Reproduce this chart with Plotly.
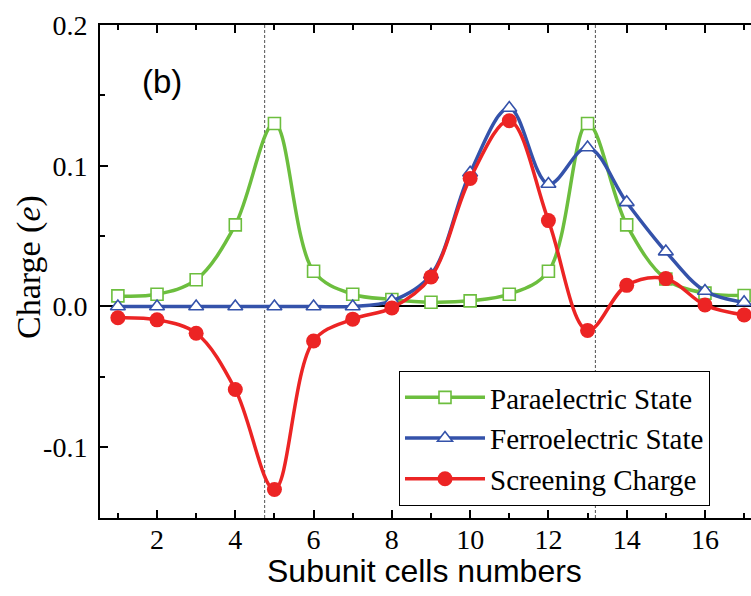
import plotly.graph_objects as go

# Subunit cell index along the supercell
cells = list(range(1, 18))

# Charge per subunit cell (e)
paraelectric = [0.0075, 0.0087, 0.019, 0.058, 0.130, 0.025, 0.0087, 0.005, 0.003,
                0.004, 0.0087, 0.025, 0.130, 0.058, 0.0195, 0.0095, 0.0078]
ferroelectric = [0.0, 0.0, 0.0, 0.0, 0.0, 0.0, 0.0, 0.004, 0.0225,
                 0.095, 0.141, 0.087, 0.113, 0.074, 0.039, 0.011, 0.003]
screening = [-0.008, -0.0095, -0.019, -0.059, -0.130, -0.0245, -0.009, -0.001, 0.021,
             0.091, 0.132, 0.061, -0.017, 0.015, 0.0198, 0.001, -0.006]

# Interface positions (dotted markers)
interfaces = [4.75, 13.2]

GREEN = "rgb(108,190,62)"
BLUE = "rgb(52,82,170)"
RED = "rgb(236,36,36)"
SERIF = "Liberation Serif"
SANS = "Liberation Sans"

# plot area in pixels
L, T, R, B = 100, 25, 751, 518
W, H = R - L, B - T


def px(xp):
    return (xp - L) / W


def py(yp):
    return (B - yp) / H


fig = go.Figure()

fig.add_trace(go.Scatter(
    x=cells, y=paraelectric, name="Paraelectric State",
    mode="lines+markers", line=dict(color=GREEN, width=3.5, shape="spline", smoothing=1.0),
    marker=dict(symbol="square", size=12, color="white", line=dict(color=GREEN, width=1.6)),
))
fig.add_trace(go.Scatter(
    x=cells, y=ferroelectric, name="Ferroelectric State",
    mode="lines+markers", line=dict(color=BLUE, width=3.5, shape="spline", smoothing=1.0),
    marker=dict(symbol="triangle-up", size=13, color="white", line=dict(color=BLUE, width=1.6)),
))
fig.add_trace(go.Scatter(
    x=cells, y=screening, name="Screening Charge",
    mode="lines+markers", line=dict(color=RED, width=3.5, shape="spline", smoothing=1.0),
    marker=dict(symbol="circle", size=15, color=RED),
))

for xi in interfaces:
    fig.add_shape(type="line", xref="x", yref="paper", x0=xi, x1=xi, y0=0, y1=1,
                  line=dict(color="rgb(80,80,80)", width=1, dash="3px,2px"), layer="below")

fig.add_annotation(text="(b)", xref="paper", yref="paper", x=px(162), y=py(82),
                   showarrow=False, font=dict(family=SANS, size=33, color="black"),
                   xanchor="center", yanchor="middle")

fig.add_annotation(text="Charge (<i>e</i>)", xref="paper", yref="paper",
                   x=px(29), y=py(267), textangle=-90,
                   showarrow=False, font=dict(family=SERIF, size=34, color="black"),
                   xanchor="center", yanchor="middle")

fig.add_annotation(text="Subunit cells numbers", xref="paper", yref="paper",
                   x=px(424), y=py(571),
                   showarrow=False, font=dict(family=SANS, size=32, color="black"),
                   xanchor="center", yanchor="middle")

fig.update_layout(
    width=751, height=596,
    margin=dict(l=L, r=751 - R, t=T, b=596 - B),
    paper_bgcolor="white", plot_bgcolor="white",
    showlegend=True,
    legend=dict(
        x=px(399), y=py(438.5), xanchor="left", yanchor="middle",
        bgcolor="white", bordercolor="black", borderwidth=1,
        font=dict(family=SERIF, size=29, color="black"),
        itemwidth=80, tracegroupgap=0,
    ),
)

fig.update_xaxes(
    range=[0.543, 17.176], tickmode="array", tickvals=list(range(2, 17, 2)),
    ticks="inside", ticklen=8, tickwidth=1.5, tickcolor="black",
    minor=dict(ticks="inside", ticklen=5, tickwidth=1.5, tickcolor="black", dtick=1, tick0=0),
    showline=True, linecolor="black", linewidth=2, mirror="ticks",
    showgrid=False, zeroline=False, ticklabelstandoff=-5,
    tickfont=dict(family=SERIF, size=28, color="black"),
)
fig.update_yaxes(
    range=[-0.1503, 0.2], tickmode="array", tickvals=[-0.1, 0.0, 0.1, 0.2],
    ticktext=["-0.1", "0.0", "0.1", "0.2"],
    ticks="inside", ticklen=8, tickwidth=1.5, tickcolor="black",
    minor=dict(ticks="inside", ticklen=5, tickwidth=1.5, tickcolor="black", dtick=0.05, tick0=0),
    showline=True, linecolor="black", linewidth=2, mirror=False,
    showgrid=False, zeroline=True, zerolinecolor="black", zerolinewidth=1.5,
    ticklabelstandoff=5,
    tickfont=dict(family=SERIF, size=28, color="black"),
)

fig.write_html("out.html")
